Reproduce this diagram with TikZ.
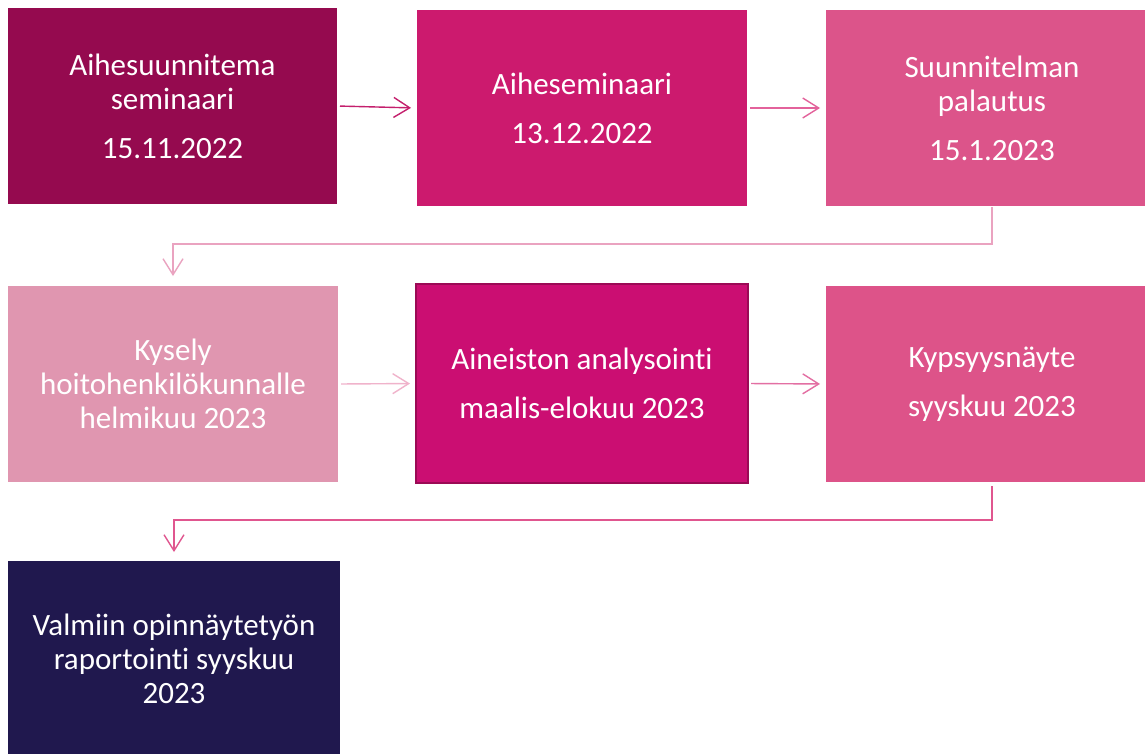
\documentclass[tikz,border=0pt]{standalone}
\usepackage{fontspec}
\setmainfont{Carlito}[Ligatures={NoCommon}]
\usetikzlibrary{arrows.meta}

\definecolor{plumA}{HTML}{950A4F}
\definecolor{plumB}{HTML}{CC1A6E}
\definecolor{plumC}{HTML}{DC548A}
\definecolor{plumD}{HTML}{E096B0}
\definecolor{plumE}{HTML}{CB0E72}
\definecolor{plumEdge}{HTML}{9B0A55}
\definecolor{plumF}{HTML}{DD5389}
\definecolor{navy}{HTML}{20184E}
\definecolor{arrA}{HTML}{C41F6D}
\definecolor{arrB}{HTML}{E3629B}
\definecolor{arrC}{HTML}{EAA3C0}
\definecolor{arrD}{HTML}{F0B3CB}
\definecolor{arrE}{HTML}{E36FA3}
\definecolor{arrF}{HTML}{E0568F}

\tikzset{
    phase/.style={minimum width=330pt, minimum height=196pt, inner sep=0pt, outer sep=0pt,
        align=center, text=white, font=\fontsize{31}{34}\selectfont},
    flow/.style={line width=1.4pt, -{Straight Barb[length=16pt, width=20pt, line width=1.4pt]}}
}

\begin{document}
\begin{tikzpicture}[x=1pt, y=-1pt]
        % Fix the frame and cut off what runs out of it
        \useasboundingbox (0,0) rectangle (1145,753);
        \clip (0,0) rectangle (1145,753);
        \fill[white] (0,0) rectangle (1145,753);

        % First row
        \node[phase, fill=plumA, minimum width=329pt] (seminar) at (172.5,106) {Aihesuunnitema\\seminaari\\[15pt]15.11.2022};
        \node[phase, fill=plumB] (topic) at (582,108) {Aiheseminaari\\[15pt]13.12.2022};
        \node[phase, fill=plumC, minimum width=332pt] (plan) at (992,108) {Suunnitelman\\palautus\\[15pt]15.1.2023};

        % Second row
        \node[phase, fill=plumD] (survey) at (173,384) {Kysely\\hoitohenkilökunnalle\\helmikuu 2023};
        \node[phase, fill=plumE, draw=plumEdge, line width=2pt, minimum width=332pt, minimum height=199pt] (analysis) at (582,383.5) {Aineiston analysointi\\[15pt]maalis-elokuu 2023};
        \node[phase, fill=plumF, minimum width=332pt] (maturity) at (992,384) {Kypsyysnäyte\\[15pt]syyskuu 2023};

        % Last row
        \node[phase, fill=navy, minimum width=332pt] (report) at (174,659) {Valmiin opinnäytetyön\\raportointi syyskuu\\2023};

        % Arrows inside the rows
        \foreach \from/\to/\col in {seminar/topic/arrA, topic/plan/arrB, survey/analysis/arrD, analysis/maturity/arrE}
            \draw[flow, \col, shorten <=3pt, shorten >=6pt] (\from.east) -- (\to.west);

        % Arrows down to the next row
        \draw[flow, arrC, shorten <=1pt, shorten >=10pt] (plan.south) -- ++(0,38) -| (survey.north);
        \draw[flow, arrF, shorten <=4pt, shorten >=9pt] (maturity.south) -- ++(0,38) -| (report.north);
\end{tikzpicture}
\end{document}
